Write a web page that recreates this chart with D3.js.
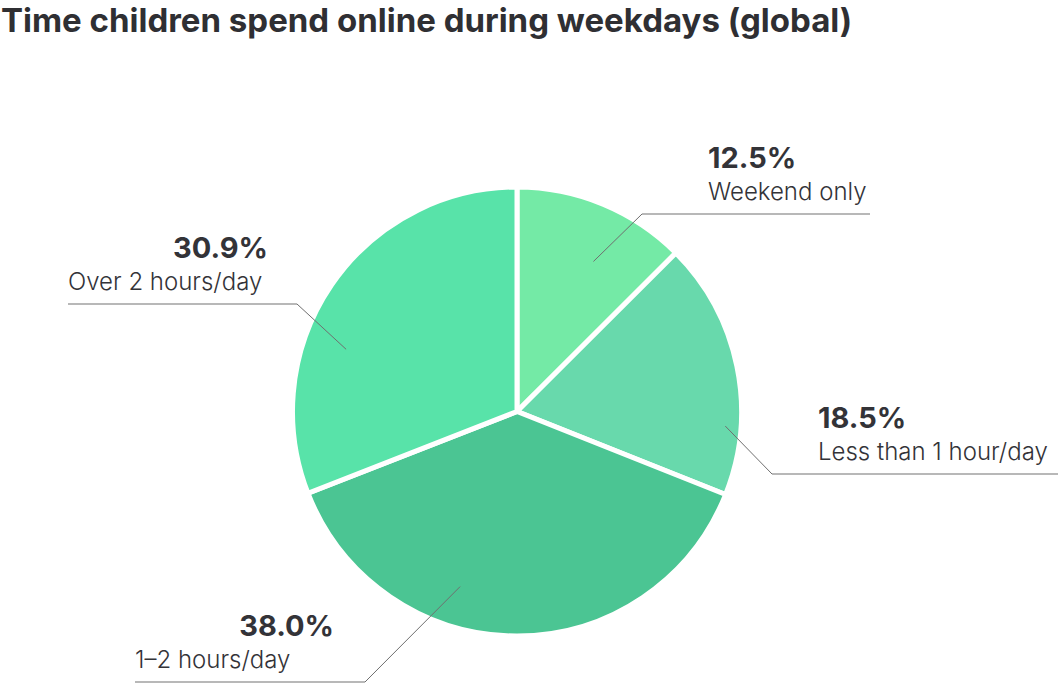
<!DOCTYPE html>
<html><head><meta charset="utf-8">
<script src="https://cdn.jsdelivr.net/npm/d3@7"></script>
<style>
body{margin:0;background:#fff;}
text{font-family:Inter, "Noto Sans", sans-serif;}
</style></head>
<body><svg id="c" width="1060" height="684"></svg>
<script>
const categories = ["Weekend only", "Less than 1 hour/day", "1–2 hours/day", "Over 2 hours/day"];
const values = [12.5, 18.5, 38.0, 30.9];
const valueLabels = ["12.5%", "18.5%", "38.0%", "30.9%"];
const colors = ["#74EAA6", "#68D9AC", "#4BC593", "#58E3A9"];
const title = "Time children spend online during weekdays (global)";

// label layout: leader start (angle deg from top, radius fraction), elbow, line end, text x
const labelLayout = [
  {ang: 27, rf: 0.75, elbow: [642, 214], end: 870, tx: 708, anchor: "start"},
  {ang: 94, rf: 0.93, elbow: [772, 474], end: 1058, tx: 818, anchor: "start"},
  {ang: 198, rf: 0.82, elbow: [365, 682], end: 135, tx: 135, vx: 334, anchor: "start"},
  {ang: 290, rf: 0.81, elbow: [297, 304], end: 68, tx: 68, vx: 268, anchor: "start"}
];

const svg = d3.select("#c");
const cx = 517, cy = 411.5, R = 224.5;

svg.append("text").attr("x", 1).attr("y", 32)
  .attr("font-size", 33).attr("font-weight", 700).attr("fill", "#2f2f33")
  .text(title);

const pie = d3.pie().sort(null).value(d => d)(values);
const arc = d3.arc().innerRadius(0).outerRadius(R);
const g = svg.append("g").attr("transform", `translate(${cx},${cy})`);
g.selectAll("path").data(pie).join("path")
  .attr("d", arc).attr("fill", (d, i) => colors[i])
  .attr("stroke", "#fff").attr("stroke-width", 5).attr("stroke-linejoin", "miter");

labelLayout.forEach((L, i) => {
  const a = L.ang * Math.PI / 180;
  const sx = cx + Math.sin(a) * R * L.rf, sy = cy - Math.cos(a) * R * L.rf;
  svg.append("line").attr("x1", L.elbow[0]).attr("y1", L.elbow[1]).attr("x2", L.end).attr("y2", L.elbow[1])
    .attr("stroke", "#a0a0a0").attr("stroke-width", 1.5);
  svg.append("line").attr("x1", sx).attr("y1", sy).attr("x2", L.elbow[0]).attr("y2", L.elbow[1])
    .attr("stroke", "#6f6f6f").attr("stroke-width", 1);
  const ly = L.elbow[1] - 14;
  svg.append("text").attr("x", L.tx).attr("y", ly)
    .attr("font-size", 24).attr("font-weight", 300).attr("fill", "#333338")
    .text(categories[i]);
  const vt = svg.append("text").attr("y", ly - 32)
    .attr("font-size", 29).attr("font-weight", 700).attr("fill", "#333338")
    .text(valueLabels[i]);
  if (L.vx !== undefined) vt.attr("x", L.vx).attr("text-anchor", "end");
  else vt.attr("x", L.tx);
});
</script></body></html>
